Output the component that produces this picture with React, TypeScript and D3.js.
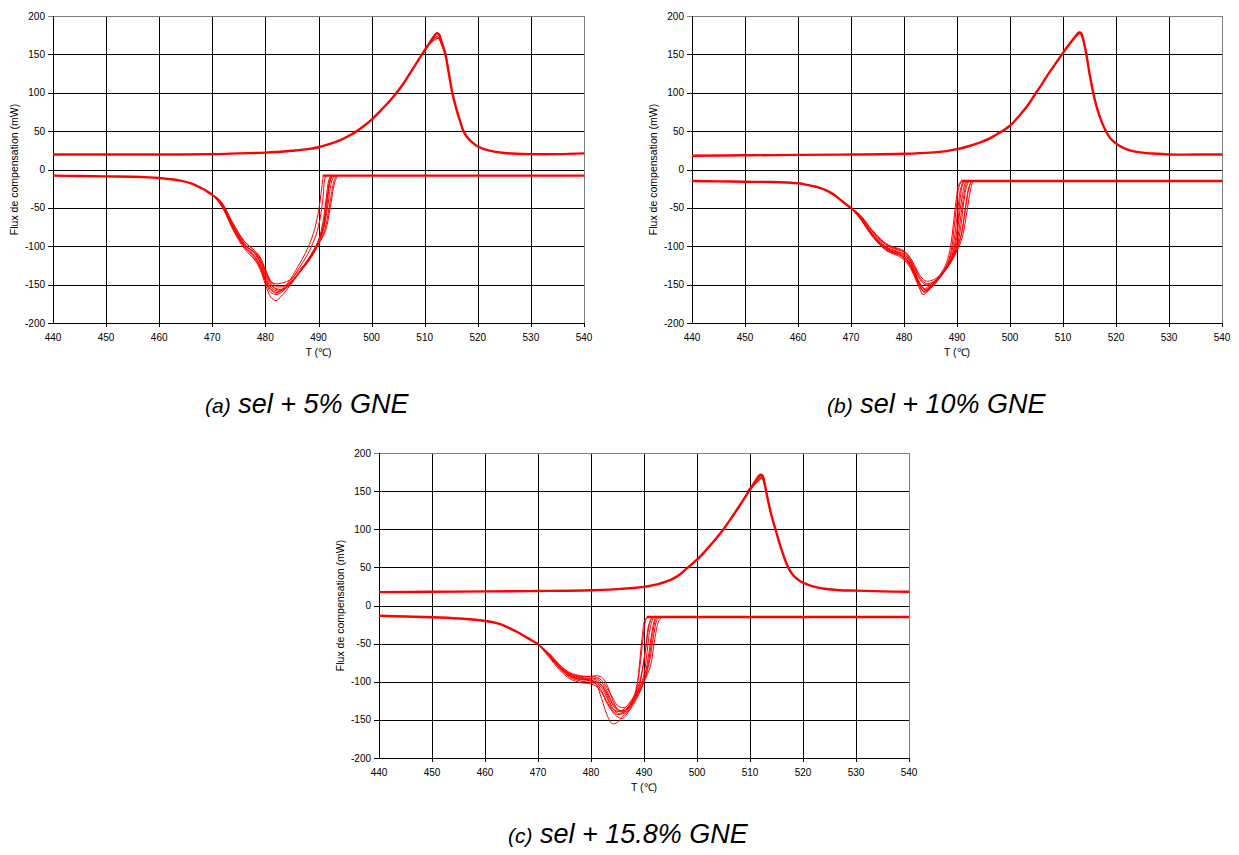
import React from "react";
import * as d3 from "d3";

type Pt = [number, number];

const xTicks = [440, 450, 460, 470, 480, 490, 500, 510, 520, 530, 540];
const yTicks = [-200, -150, -100, -50, 0, 50, 100, 150, 200];
const xTitle = "T (\u2103)";
const yTitle = "Flux de compensation (mW)";

// ---------- Panel (a) sel + 5% GNE ----------
const upperA: Pt[] = [
  [440, 19.5], [450, 19.5], [460, 19.5], [470, 20], [475, 21], [480, 22], [485, 24.5],
  [488, 26.5], [490, 29], [492, 33], [494, 38], [496, 45], [497.2, 50], [498.6, 57], [500, 65], [502, 79],
  [503.5, 90], [504.7, 100], [506, 112], [507, 123], [508.3, 137], [509.5, 150], [511, 166], [511.8, 174],
  [512.3, 177.5], [512.7, 176], [513.1, 168], [513.9, 150], [514.5, 127], [515.2, 100], [516, 78], [516.7, 62],
  [517.3, 50], [518, 42], [519, 35], [520, 30], [522, 25], [525, 21.5], [530, 20], [535, 20], [540, 21],
];
const upperAPeaks: Pt[][] = [
  [[509.5, 150], [511, 165], [512, 172], [512.5, 173], [513.1, 165], [513.9, 150]],
  [[509.5, 150], [511, 164], [512.1, 170], [512.6, 171], [513.2, 162], [514, 150]],
];
const lowerAHead: Pt[] = [
  [440, -8], [445, -8.5], [450, -9], [455, -9.5], [458, -10.2], [460, -11], [462, -12.5], [464, -14.5],
  [466, -18], [468, -24.5], [469, -28.5], [470, -33],
];
const lowerARuns: Pt[][] = [
  [[471, -41], [472, -51], [474, -80], [476, -103], [478, -118], [479, -130], [480, -150], [481, -166], [482, -171], [483, -165], [484, -157], [485, -148], [486, -138], [488, -118], [490, -94], [491, -72], [491.6, -40], [492, -18], [492.4, -9], [493, -8]],
  [[471, -40], [472, -50], [474, -78], [476, -101], [478, -116], [479, -128], [480, -146], [481, -160], [482, -163], [483, -160], [484, -154], [485, -146], [486, -137], [488, -117], [490, -92], [490.8, -70], [491.4, -40], [491.9, -15], [492.3, -8]],
  [[471, -39], [472, -48], [474, -76], [476, -98], [477, -104], [478, -110], [479, -122], [480, -140], [481, -153], [482, -158], [483, -158], [484, -153], [485, -146], [486, -137], [488, -119], [490, -93], [491, -68], [491.7, -35], [492.3, -12], [492.8, -8]],
  [[471, -38], [472, -47], [474, -74], [476, -96], [477, -103], [478, -108], [479, -118], [480, -134], [481, -148], [482, -155], [483, -156], [484, -153], [485, -146], [486, -138], [488, -120], [490, -96], [491, -76], [491.8, -45], [492.5, -15], [493, -8]],
  [[471, -38], [472, -46], [474, -72], [476, -94], [478, -106], [479, -114], [480, -130], [481, -145], [482, -152], [483, -153], [484, -150], [485, -145], [486, -137], [488, -121], [490, -98], [491.2, -78], [492, -50], [492.8, -18], [493.3, -8]],
  [[471, -37], [472, -45], [474, -71], [476, -93], [478, -106], [479, -116], [480, -132], [481, -146], [482, -149], [483, -148], [484, -146], [485, -142], [486, -134], [488, -118], [490, -97], [491.3, -80], [492.2, -50], [493, -18], [493.6, -8]],
  [[471, -40], [472, -49], [474, -77], [476, -99], [478, -113], [479, -125], [480, -143], [481, -155], [482, -160], [483, -157], [484, -150], [485, -140], [486, -128], [487, -116], [488, -102], [489, -84], [490, -55], [490.5, -30], [490.9, -8]],
  [[471, -39], [472, -49], [474, -77], [476, -100], [478, -114], [479, -126], [480, -144], [481, -157], [482, -161], [483, -158], [484, -152], [485, -143], [486, -132], [488, -110], [489, -95], [490, -74], [490.8, -40], [491.2, -12], [491.5, -8]],
  [[471, -38], [472, -47], [474, -75], [476, -97], [478, -109], [479, -120], [480, -137], [481, -150], [482, -156], [483, -157], [484, -154], [485, -147], [486, -138], [488, -119], [490, -94], [491, -74], [491.6, -45], [492.2, -15], [492.6, -8]],
];
const lowerATail: Pt[] = [[490.8, -8], [495, -8], [500, -8], [510, -8], [520, -8], [530, -8], [540, -8]];

// ---------- Panel (b) sel + 10% GNE ----------
const upperB: Pt[] = [
  [440, 18], [450, 18.5], [460, 19], [470, 19.5], [480, 20.5], [485, 22], [488, 24], [490, 26.5],
  [492, 30], [494, 34.5], [496, 40], [497.3, 45], [498.5, 50], [500, 57], [502, 72], [503.5, 85], [504.9, 100],
  [506, 111], [507, 122], [508.5, 137], [509.8, 150], [511.5, 166], [512.5, 175], [513, 178.5], [513.4, 178],
  [513.8, 170], [514.4, 150], [515, 125], [515.7, 100], [516.5, 78], [517.3, 62], [518.1, 50], [519, 40], [520, 34],
  [521, 29.5], [522.6, 25], [525, 22], [528, 20.5], [530, 19.5], [535, 19.5], [540, 19.5],
];
const upperBPeaks: Pt[][] = [
  [[509.8, 150], [511.5, 165], [512.7, 175], [513.2, 177], [513.8, 168], [514.5, 150]],
];
const lowerBHead: Pt[] = [
  [440, -15], [445, -15.5], [450, -16], [455, -16.3], [458, -17], [460, -18], [461, -19], [462, -20.3], [463, -21.8], [464, -23.7],
  [465, -26.3], [466, -29.5], [467, -34], [468, -39.5], [469, -45], [470, -50.5],
];
const lowerBRuns: Pt[][] = [
  [[471, -55], [472, -61], [474, -79], [476, -93], [477, -98], [478, -101], [479, -103], [480, -106], [481, -113], [482, -125], [483, -138], [484, -145], [485, -145], [486, -142], [487, -136], [488, -127], [489, -114], [489.8, -95], [490.3, -68], [490.9, -38], [491.5, -19], [492, -15]],
  [[471, -58], [472, -67], [474, -87], [476, -102], [477, -107], [478, -110], [479, -113], [480, -118], [481, -126], [482, -140], [483, -156], [483.6, -163], [484.3, -160], [485, -155], [486, -148], [487, -139], [488, -128], [489, -113], [489.7, -92], [490.2, -66], [490.6, -38], [491.1, -19], [491.6, -15]],
  [[471, -56], [472, -64], [474, -83], [476, -97], [477, -102], [478, -105], [479, -107], [480, -110], [481, -118], [482, -132], [483, -148], [483.8, -155], [484.5, -153], [485, -150], [486, -144], [487, -136], [488, -127], [489, -116], [490, -100], [490.7, -75], [491.3, -42], [491.9, -20], [492.4, -15]],
  [[471, -57], [472, -65], [474, -85], [476, -99], [477, -104], [478, -107], [479, -109], [480, -113], [481, -122], [482, -137], [483, -152], [483.7, -159], [484.5, -157], [485, -153], [486, -146], [487, -138], [488, -129], [489, -118], [490, -103], [490.9, -82], [491.6, -50], [492.2, -24], [492.8, -15]],
  [[471, -55], [472, -63], [474, -81], [476, -95], [477, -100], [478, -103], [479, -105], [480, -108], [481, -116], [482, -129], [483, -143], [484, -150], [485, -149], [486, -145], [487, -138], [488, -129], [489, -119], [490, -106], [491, -88], [491.8, -58], [492.5, -28], [493, -16], [493.4, -15]],
  [[471, -58], [472, -66], [474, -86], [476, -101], [477, -106], [478, -109], [479, -111], [480, -116], [481, -124], [482, -138], [483, -153], [483.8, -160], [484.5, -158], [485, -153], [486, -145], [487, -135], [488, -122], [488.8, -100], [489.3, -72], [489.8, -42], [490.3, -20], [490.8, -15]],
  [[471, -56], [472, -64], [474, -84], [476, -98], [477, -103], [478, -106], [479, -108], [480, -111], [481, -119], [482, -133], [483, -149], [484, -156], [485, -152], [486, -146], [487, -138], [488, -126], [489, -108], [489.6, -85], [490.1, -55], [490.6, -28], [491.1, -15]],
  [[471, -57], [472, -65], [474, -85], [476, -100], [477, -105], [478, -108], [479, -110], [480, -114], [481, -121], [482, -135], [483, -150], [484, -157], [485, -154], [486, -147], [487, -139], [488, -130], [489, -119], [490, -104], [490.8, -85], [491.5, -55], [492.2, -26], [492.7, -16], [493, -15]],
  [[471, -55], [472, -62], [474, -80], [476, -94], [477, -99], [478, -102], [479, -104], [480, -107], [481, -115], [482, -127], [483, -141], [484, -148], [485, -148], [486, -144], [487, -137], [488, -128], [489, -116], [489.9, -98], [490.5, -72], [491.1, -42], [491.7, -20], [492.2, -15]],
  [[471, -57], [472, -66], [474, -86], [476, -100], [477, -105], [478, -108], [479, -111], [480, -115], [481, -123], [482, -137], [483, -152], [483.7, -158], [484.5, -156], [485, -152], [486, -145], [487, -137], [488, -126], [488.9, -106], [489.4, -80], [489.9, -48], [490.4, -22], [490.9, -15]],
];
const lowerBTail: Pt[] = [[490.8, -15], [495, -15], [500, -15], [510, -15], [520, -15], [530, -15], [540, -15]];

// ---------- Panel (c) sel + 15.8% GNE ----------
const upperC: Pt[] = [
  [440, 17.5], [450, 18], [460, 18.5], [470, 19], [480, 20], [485, 21.5], [488, 23], [490, 24.5],
  [491, 25.6], [492, 27], [493, 28.8], [494, 31], [495, 33.6], [496, 37.2], [497, 42], [498.3, 50],
  [500, 60], [501, 67], [502, 75], [503.5, 87], [505, 100], [506, 110], [507, 120], [508.5, 136],
  [509.8, 150], [511, 163], [511.6, 169], [512, 171.5], [512.4, 170], [512.7, 162],
  [513.1, 148], [513.8, 125], [514.8, 100], [516, 72], [517.2, 50], [518, 41], [519, 34],
  [520, 30], [521.9, 25], [524, 22], [527, 20], [530, 19.5], [535, 18.5], [540, 18],
];
const upperCPeaks: Pt[][] = [
  [[509.8, 150], [511, 160], [511.8, 165], [512.2, 167], [512.7, 160], [513, 150]],
  [[509.5, 150], [511, 162], [511.9, 168], [512.3, 169], [512.8, 158], [513, 150]],
];
const lowerCHead: Pt[] = [
  [440, -13.5], [445, -14.5], [450, -15.5], [455, -17], [457, -18], [459, -19.3], [461, -21.3],
  [462, -22.8], [463, -24.8], [464, -27.6], [465, -31], [466, -34.5], [467, -38.3], [468, -42.5],
  [469, -46.5], [470, -50.5],
];
const lowerCRuns: Pt[][] = [
  [[472, -65], [474, -81], [476, -93], [478, -97], [479, -97], [480, -98], [481, -104], [482, -122], [483, -143], [484, -155], [485, -153], [486, -145], [487, -138], [488, -127], [488.6, -110], [489.1, -80], [489.6, -45], [490.1, -20], [490.6, -15]],
  [[472, -63], [474, -78], [476, -89], [478, -93], [479, -93], [480, -93], [481, -92], [482, -94], [483, -104], [484, -122], [485, -136], [486, -139], [487, -134], [488, -124], [489, -108], [489.7, -85], [490.3, -55], [490.9, -25], [491.5, -15]],
  [[472, -64], [474, -80], [476, -91], [478, -96], [479, -97], [480, -98], [481, -100], [482, -105], [483, -118], [484, -133], [485, -141], [486, -142], [487, -136], [488, -126], [489, -112], [490, -90], [490.6, -60], [491.2, -28], [491.8, -15]],
  [[472, -66], [474, -82], [476, -94], [478, -99], [479, -100], [480, -101], [481, -103], [482, -112], [483, -126], [484, -137], [485, -143], [486, -141], [487, -134], [488, -124], [489, -110], [490, -95], [490.8, -68], [491.5, -35], [492.1, -17], [492.5, -15]],
  [[472, -63], [474, -79], [476, -90], [478, -94], [479, -95], [480, -95], [481, -96], [482, -101], [483, -112], [484, -127], [485, -136], [486, -138], [487, -133], [488, -124], [489, -113], [490, -99], [491, -75], [491.8, -40], [492.5, -18], [493, -15]],
  [[472, -67], [474, -84], [476, -96], [478, -101], [479, -102], [480, -103], [481, -106], [482, -114], [483, -128], [484, -139], [485, -146], [486, -148], [487, -140], [488, -130], [489, -117], [490, -100], [491.2, -80], [492, -45], [492.8, -20], [493.4, -15]],
  [[472, -62], [474, -77], [476, -88], [478, -92], [479, -93], [480, -93], [481, -94], [482, -98], [483, -108], [484, -120], [485, -131], [486, -134], [487, -131], [488, -121], [488.8, -100], [489.4, -70], [489.9, -38], [490.4, -18], [490.8, -15]],
  [[472, -65], [474, -81], [476, -92], [478, -97], [479, -98], [480, -99], [481, -101], [482, -108], [483, -121], [484, -135], [485, -139], [486, -137], [487, -130], [488, -120], [489, -104], [489.8, -80], [490.5, -48], [491, -25], [491.5, -15]],
  [[472, -64], [474, -80], [476, -91], [478, -95], [479, -96], [480, -96], [481, -98], [482, -104], [483, -115], [484, -129], [485, -138], [486, -140], [487, -135], [488, -127], [489, -115], [490, -100], [490.9, -72], [491.6, -38], [492.3, -17], [492.8, -15]],
];
const lowerCTail: Pt[] = [[490.5, -15], [495, -15], [500, -15], [510, -15], [520, -15], [530, -15], [540, -15]];

const FONT = "'Liberation Sans', Arial, Helvetica, sans-serif";
const RED = "#ff0000";

interface PanelProps {
  left: number;
  top: number;
  width: number;
  height: number;
  upper: Pt[];
  upperPeaks: Pt[][];
  head: Pt[];
  runs: Pt[][];
  tail: Pt[];
}

function Panel({ left, top, width, height, upper, upperPeaks, head, runs, tail }: PanelProps) {
  const x = d3.scaleLinear().domain([440, 540]).range([left, left + width]);
  const y = d3.scaleLinear().domain([-200, 200]).range([top + height, top]);
  const line = d3
    .line<Pt>()
    .x((d) => x(d[0]))
    .y((d) => y(d[1]))
    .curve(d3.curveCatmullRom.alpha(0.5));
  const headEnd = head[head.length - 1];
  const bottom = top + height;
  const right = left + width;
  const snap = (v: number) => Math.round(v) + 0.5;
  return (
    <g>
      {/* grid */}
      {xTicks.map((t) => (
        <line key={"vx" + t} x1={snap(x(t))} x2={snap(x(t))} y1={top} y2={bottom + (t === 440 ? 0 : 4)} stroke={t === 540 ? "#808080" : "#000"} strokeWidth={1} />
      ))}
      {yTicks.map((t) => (
        <line key={"hy" + t} x1={left - 5} x2={right} y1={snap(y(t))} y2={snap(y(t))} stroke={t === 200 ? "#808080" : "#000"} strokeWidth={1} />
      ))}
      <line x1={snap(x(540))} x2={snap(x(540))} y1={top} y2={bottom} stroke="#808080" strokeWidth={1} />
      {/* axes */}
      <line x1={snap(left)} x2={snap(left)} y1={top} y2={snap(bottom)} stroke="#000" strokeWidth={1} />
      <line x1={left} x2={right} y1={snap(bottom)} y2={snap(bottom)} stroke="#000" strokeWidth={1} />
      <line x1={snap(x(540))} x2={snap(x(540))} y1={bottom} y2={bottom + 4} stroke="#000" strokeWidth={1} />
      {/* tick labels */}
      {xTicks.map((t) => (
        <text key={"lx" + t} x={x(t)} y={bottom + 18} textAnchor="middle" fontSize={10} fontFamily={FONT} fill="#000">
          {t}
        </text>
      ))}
      {yTicks.map((t) => (
        <text key={"ly" + t} x={left - 8} y={y(t) + 3.5} textAnchor="end" fontSize={10} fontFamily={FONT} fill="#000">
          {t}
        </text>
      ))}
      <text x={left + width / 2} y={bottom + 33} textAnchor="middle" fontSize={10.5} fontFamily={FONT} fill="#000">
        {xTitle}
      </text>
      <text
        transform={`translate(${left - 35},${top + height / 2}) rotate(-90)`}
        textAnchor="middle"
        fontSize={10.5}
        fontFamily={FONT}
        fill="#000"
      >
        {yTitle}
      </text>
      {/* curves */}
      <path d={line(upper) || ""} fill="none" stroke={RED} strokeWidth={2.4} />
      {upperPeaks.map((p, i) => (
        <path key={"up" + i} d={line(p) || ""} fill="none" stroke={RED} strokeWidth={1.2} />
      ))}
      <path d={line(head) || ""} fill="none" stroke={RED} strokeWidth={2.4} />
      {runs.map((r, i) => (
        <path key={"run" + i} d={line([headEnd, ...r]) || ""} fill="none" stroke={RED} strokeWidth={1} />
      ))}
      <path d={line(tail) || ""} fill="none" stroke={RED} strokeWidth={2.4} />
    </g>
  );
}

function Caption({ x, y, label, text }: { x: number; y: number; label: string; text: string }) {
  return (
    <text x={x} y={y} fontFamily={FONT} fontStyle="italic" fill="#000">
      <tspan fontSize={21}>{label}</tspan>
      <tspan fontSize={27}>{" " + text}</tspan>
    </text>
  );
}

export default function App() {
  return (
    <svg
      width={1239}
      height={855}
      viewBox="0 0 1239 855"
      style={{ position: "absolute", left: 0, top: 0, background: "#fff" }}
    >
      <rect x={0} y={0} width={1239} height={855} fill="#fff" />
      <Panel left={53} top={16} width={531} height={307} upper={upperA} upperPeaks={upperAPeaks} head={lowerAHead} runs={lowerARuns} tail={lowerATail} />
      <Panel left={692} top={16} width={530} height={307} upper={upperB} upperPeaks={upperBPeaks} head={lowerBHead} runs={lowerBRuns} tail={lowerBTail} />
      <Panel left={379} top={453} width={530} height={305} upper={upperC} upperPeaks={upperCPeaks} head={lowerCHead} runs={lowerCRuns} tail={lowerCTail} />
      <Caption x={205} y={413} label="(a)" text="sel + 5% GNE" />
      <Caption x={827} y={413} label="(b)" text="sel + 10% GNE" />
      <Caption x={508} y={843} label="(c)" text="sel + 15.8% GNE" />
    </svg>
  );
}
